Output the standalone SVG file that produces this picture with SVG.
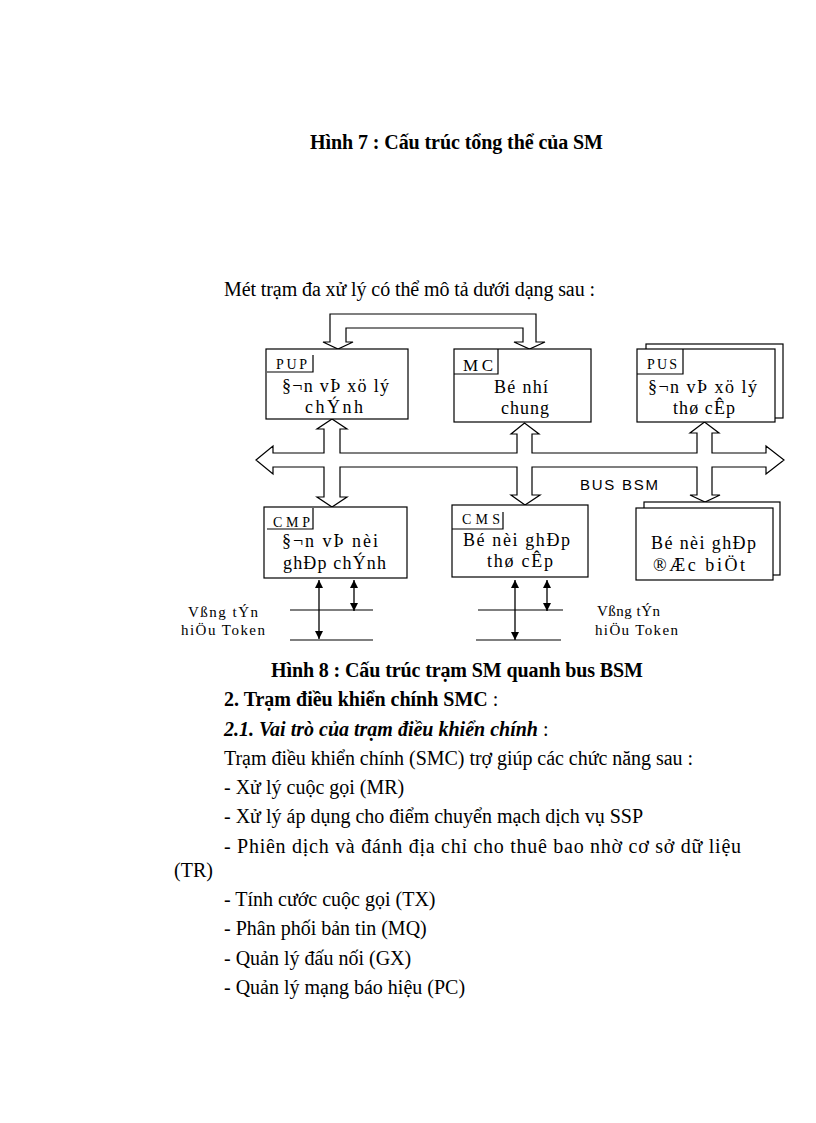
<svg xmlns="http://www.w3.org/2000/svg" width="816" height="1123" viewBox="0 0 816 1123">
<defs>
<style>
text{font-family:"Liberation Serif","Times New Roman",serif;fill:#000}
.body{font-size:20px}
.b{font-weight:bold}
.bi{font-weight:bold;font-style:italic}
.box{fill:#fff;stroke:#000;stroke-width:1.2}
.ln{fill:none;stroke:#000;stroke-width:1.2}
.big{fill:#fff;stroke:#000;stroke-width:1.2;stroke-linejoin:miter}
.t{font-size:18px;text-anchor:start}
.tab{font-size:14px}
.tok{font-size:15px}
.sig{fill:none;stroke:#000;stroke-width:1.3;marker-start:url(#ah);marker-end:url(#ah)}
</style>
<marker id="ah" viewBox="0 0 8 8" refX="8" refY="4" markerWidth="8" markerHeight="8" markerUnits="userSpaceOnUse" orient="auto-start-reverse">
<path d="M0,0 L8,4 L0,8 Z" fill="#000"/>
</marker>
</defs>
<rect width="816" height="1123" fill="#fff"/>

<text class="body b" x="310" y="149" textLength="293">Hình 7 : Cấu trúc tổng thể của SM</text>
<text class="body" x="224" y="296" textLength="371">Mét trạm đa xử lý có thể mô tả dưới dạng sau :</text>

<g id="connectors">
<path id="loop" class="big" d="M330,342 L330,314 L536,314 L536,342 L545,342 L529.5,349 L514,342 L523,342 L523,328 L346,328 L346,342 L353,342 L338,349 L323,342 Z"/>
<path id="bus" class="big" d="M256,460 L273,446 L273,453 L324,453 L324,429 L317,429 L332,419 L347,429 L340,429 L340,453 L517,453 L517,434 L511,434 L524.5,423 L539,434 L532,434 L532,453 L697,453 L697,433 L690,433 L704.5,422 L719,433 L712,433 L712,453 L766,453 L766,446 L784,460 L766,474 L766,467 L712,467 L712,495 L720,495 L705,502 L690,495 L697,495 L697,467 L532,467 L532,495 L540,495 L525,505 L511,495 L517,495 L517,467 L340,467 L340,497 L347,497 L332,507 L317,497 L324,497 L324,467 L273,467 L273,474 Z"/>
<text x="580" y="490" style="font-family:'Liberation Sans',Arial,sans-serif;font-size:15px" textLength="78">BUS BSM</text>
<line class="sig" x1="319" y1="580" x2="319" y2="639"/>
<line class="sig" x1="354" y1="580" x2="354" y2="611"/>
<line class="ln" x1="290" y1="610" x2="373" y2="610"/>
<line class="ln" x1="290" y1="640" x2="373" y2="640"/>
<line class="sig" x1="515" y1="580" x2="515" y2="640"/>
<line class="sig" x1="547" y1="580" x2="547" y2="611"/>
<line class="ln" x1="478" y1="610" x2="563" y2="610"/>
<line class="ln" x1="476" y1="640" x2="561" y2="640"/>
</g>

<g id="PUP">
<rect class="box" x="266" y="349" width="142" height="70"/>
<polyline class="ln" points="267,372 313,372 313,355"/>
<text class="tab" x="276" y="369" textLength="31">PUP</text>
<text class="t" x="282" y="392" textLength="107">§¬n vÞ xö lý</text>
<text class="t" x="305" y="413" textLength="58">chÝnh</text>
</g>

<g id="MC">
<rect class="box" x="454" y="349" width="137" height="73"/>
<polyline class="ln" points="454,374 498,374 498,349"/>
<text x="463" y="371" style="font-size:17px" textLength="30">MC</text>
<text class="t" x="494" y="393" textLength="54">Bé nhí</text>
<text class="t" x="501" y="414" textLength="48">chung</text>
</g>

<g id="PUS">
<rect class="box" x="646" y="344" width="137" height="74"/>
<rect class="box" x="637" y="349" width="138" height="73"/>
<polyline class="ln" points="637,374 683,374 683,349"/>
<text class="tab" x="647" y="369" textLength="30">PUS</text>
<text class="t" x="648" y="393" textLength="109">§¬n vÞ xö lý</text>
<text class="t" x="673" y="414" textLength="62">thø cÊp</text>
</g>

<g id="CMP">
<rect class="box" x="264" y="507" width="143" height="71"/>
<polyline class="ln" points="267,529 313,529 313,508"/>
<text class="tab" x="273" y="527" textLength="37">CMP</text>
<text class="t" x="282" y="547" textLength="96">§¬n vÞ nèi</text>
<text class="t" x="283" y="569" textLength="103">ghÐp chÝnh</text>
</g>

<g id="CMS">
<rect class="box" x="452" y="505" width="136" height="72"/>
<polyline class="ln" points="452,529 503,529 503,512"/>
<text class="tab" x="462" y="524" textLength="38">CMS</text>
<text class="t" x="463" y="546" textLength="107">Bé nèi ghÐp</text>
<text class="t" x="487" y="567" textLength="66">thø cÊp</text>
</g>

<g id="special">
<rect class="box" x="644" y="502" width="136" height="73"/>
<rect class="box" x="636" y="508" width="137" height="72"/>
<text class="t" x="651" y="549" textLength="105">Bé nèi ghÐp</text>
<text class="t" x="653" y="571" textLength="92">®Æc biÖt</text>
</g>

<g id="token-left">
<text class="tok" x="188" y="617" textLength="70">Vßng tÝn</text>
<text class="tok" x="181" y="635" textLength="84">hiÖu Token</text>
</g>
<g id="token-right">
<text class="tok" x="597" y="616" textLength="63">Vßng tÝn</text>
<text class="tok" x="595" y="635" textLength="83">hiÖu Token</text>
</g>

<text class="body b" x="271" y="677" textLength="372">Hình 8 : Cấu trúc trạm SM quanh bus BSM</text>
<text class="body" x="224" y="706"><tspan class="b">2. Trạm điều khiển chính SMC</tspan> :</text>
<text class="body" x="224" y="736"><tspan class="bi">2.1. Vai trò của trạm điều khiển chính</tspan> :</text>
<text class="body" x="224" y="765" textLength="469">Trạm điều khiển chính (SMC) trợ giúp các chức năng sau :</text>
<text class="body" x="224" y="794">- Xử lý cuộc gọi (MR)</text>
<text class="body" x="224" y="823">- Xử lý áp dụng cho điểm chuyển mạch dịch vụ SSP</text>
<text class="body" x="224" y="853" textLength="517" lengthAdjust="spacing">- Phiên dịch và đánh địa chỉ cho thuê bao nhờ cơ sở dữ liệu</text>
<text class="body" x="174" y="877">(TR)</text>
<text class="body" x="224" y="906">- Tính cước cuộc gọi (TX)</text>
<text class="body" x="224" y="935">- Phân phối bản tin (MQ)</text>
<text class="body" x="224" y="965">- Quản lý đấu nối (GX)</text>
<text class="body" x="224" y="994">- Quản lý mạng báo hiệu (PC)</text>
</svg>
